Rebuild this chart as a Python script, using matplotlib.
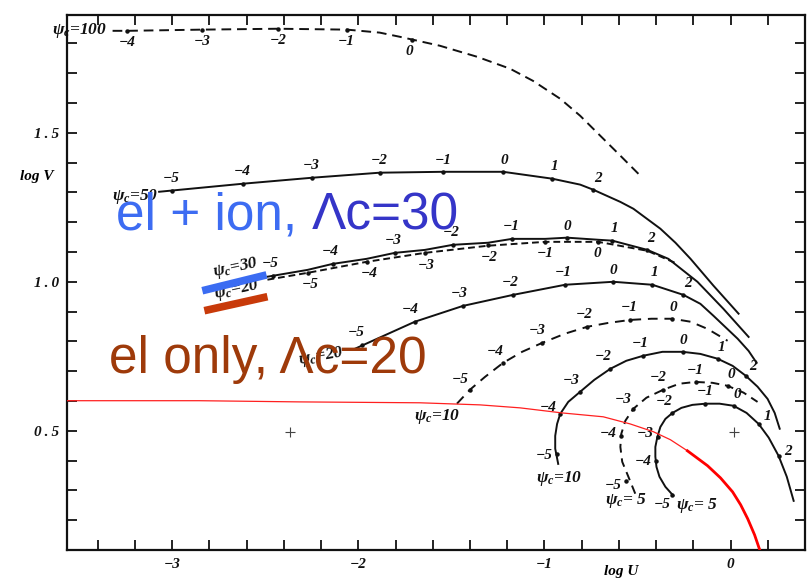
import numpy as np
import matplotlib.pyplot as plt
from matplotlib import transforms

plt.rcParams['mathtext.fontset'] = 'custom'
plt.rcParams['mathtext.rm'] = 'Liberation Serif:bold:italic'
plt.rcParams['mathtext.it'] = 'Liberation Serif:bold:italic'
plt.rcParams['mathtext.bf'] = 'Liberation Serif:bold:italic'

# ---- curves in the (log U, log V) plane ----
# psi_c = 100 (dashed)
p100_u = [-3.32, -3.24, -2.84, -2.43, -2.06, -1.885, -1.777, -1.562, -1.362, -1.185, -1.061,
          -0.915, -0.808, -0.700, -0.592, -0.485]
p100_v = [1.842, 1.842, 1.846, 1.849, 1.846, 1.836, 1.822, 1.792, 1.755, 1.715, 1.674,
          1.614, 1.557, 1.490, 1.423, 1.356]
p100_mu = [-3.24, -2.84, -2.43, -2.06, -1.71]
p100_mv = [1.842, 1.846, 1.849, 1.846, 1.812]
p100_lab = ['−4', '−3', '−2', '−1', '0']

# psi_c = 50 (solid)
p50_u = [-3.07, -2.62, -2.25, -1.885, -1.546, -1.222, -0.959, -0.808, -0.738, -0.592, -0.522,
         -0.377, -0.296, -0.215, -0.092, 0.043]
p50_v = [1.302, 1.329, 1.349, 1.366, 1.369, 1.369, 1.346, 1.326, 1.309, 1.268, 1.245,
         1.178, 1.131, 1.077, 0.987, 0.893]
p50_mu = [-3.00, -2.62, -2.25, -1.885, -1.546, -1.222, -0.959, -0.738]
p50_mv = [1.306, 1.329, 1.349, 1.366, 1.369, 1.369, 1.346, 1.309]
p50_lab = ['−5', '−4', '−3', '−2', '−1', '0', '1', '2']

# psi_c = 30 (solid)
p30_u = [-2.488, -2.272, -2.138, -1.955, -1.804, -1.642, -1.492, -1.303, -1.174, -0.996,
         -0.878, -0.711, -0.635, -0.447, -0.334, -0.178, -0.038, 0.097]
p30_v = [1.017, 1.040, 1.060, 1.077, 1.097, 1.107, 1.124, 1.131, 1.144, 1.144,
         1.148, 1.141, 1.138, 1.107, 1.077, 1.000, 0.909, 0.815]
p30_mu = [-2.46, -2.138, -1.804, -1.492, -1.174, -0.878, -0.635, -0.447]
p30_mv = [1.021, 1.060, 1.097, 1.124, 1.144, 1.148, 1.138, 1.107]
p30_lab = ['−5', '−4', '−3', '−2', '−1', '0', '1', '2']

# psi_c = 20 (dashed, next to psi_c = 30)
p20d_u = [-2.488, -2.272, -1.955, -1.642, -1.303, -0.996, -0.711, -0.447, -0.285]
p20d_v = [1.007, 1.030, 1.067, 1.097, 1.121, 1.134, 1.134, 1.104, 1.060]
p20d_mu = [-2.272, -1.955, -1.642, -1.303, -0.996, -0.711]
p20d_mv = [1.031, 1.068, 1.097, 1.122, 1.134, 1.134]
p20d_lab = ['−5', '−4', '−3', '−2', '−1', '0']

# psi_c = 20 (solid, lower)
p20_u = [-2.019, -1.696, -1.438, -1.169, -0.889, -0.630, -0.420, -0.253, -0.162, -0.092, 0.038,
         0.097, 0.140]
p20_v = [0.775, 0.866, 0.919, 0.956, 0.990, 1.000, 0.990, 0.956, 0.926, 0.886, 0.809,
         0.768, 0.728]
p20_mu = [-1.98, -1.696, -1.438, -1.169, -0.889, -0.630, -0.420, -0.253]
p20_mv = [0.787, 0.866, 0.919, 0.956, 0.990, 1.000, 0.990, 0.956]
p20_lab = ['−5', '−4', '−3', '−2', '−1', '0', '1', '2']

# psi_c = 10 (dashed)
p10d_u = [-1.470, -1.400, -1.319, -1.222, -1.120, -1.012, -0.889, -0.770, -0.657, -0.539,
          -0.425, -0.312, -0.215, -0.124, -0.016]
p10d_v = [0.591, 0.638, 0.681, 0.728, 0.765, 0.795, 0.826, 0.849, 0.862, 0.872,
          0.876, 0.876, 0.866, 0.842, 0.802]
p10d_mu = [-1.400, -1.222, -1.012, -0.770, -0.539, -0.312]
p10d_mv = [0.638, 0.728, 0.795, 0.849, 0.872, 0.876]
p10d_lab = ['−5', '−4', '−3', '−2', '−1', '0']

# psi_c = 10 (solid)
p10_u = [-0.926, -0.942, -0.942, -0.932, -0.915, -0.872, -0.808, -0.732, -0.646, -0.560, -0.468,
         -0.366, -0.258, -0.162, -0.070, 0.011, 0.081, 0.145, 0.199, 0.237, 0.264]
p10_v = [0.389, 0.440, 0.483, 0.523, 0.557, 0.597, 0.631, 0.671, 0.708, 0.735, 0.752,
         0.765, 0.765, 0.758, 0.742, 0.718, 0.685, 0.648, 0.607, 0.560, 0.507]
p10_mu = [-0.935, -0.915, -0.808, -0.646, -0.468, -0.258, -0.070, 0.081]
p10_mv = [0.423, 0.557, 0.631, 0.708, 0.752, 0.765, 0.742, 0.685]
p10_lab = ['−5', '−4', '−3', '−2', '−1', '0', '1', '2']

# psi_c = 5 (dashed)
p5d_u = [-0.512, -0.549, -0.582, -0.592, -0.587, -0.565, -0.522, -0.452, -0.361, -0.275,
         -0.188, -0.097, -0.016, 0.070, 0.145]
p5d_v = [0.289, 0.346, 0.396, 0.446, 0.490, 0.534, 0.574, 0.611, 0.638, 0.658,
         0.664, 0.661, 0.651, 0.628, 0.597]
p5d_mu = [-0.560, -0.588, -0.522, -0.361, -0.188, -0.016]
p5d_mv = [0.333, 0.483, 0.574, 0.638, 0.664, 0.651]
p5d_lab = ['−5', '−4', '−3', '−2', '−1', '0']

# psi_c = 5 (solid)
p5_u = [-0.307, -0.350, -0.382, -0.398, -0.404, -0.404, -0.393, -0.377, -0.350, -0.312, -0.264,
        -0.205, -0.135, -0.059, 0.016, 0.086, 0.151, 0.205, 0.258, 0.302, 0.339]
p5_v = [0.282, 0.312, 0.346, 0.379, 0.413, 0.446, 0.480, 0.513, 0.540, 0.560, 0.577,
        0.587, 0.591, 0.591, 0.584, 0.560, 0.523, 0.477, 0.416, 0.346, 0.265]
p5_mu = [-0.312, -0.402, -0.390, -0.312, -0.135, 0.016, 0.151, 0.258]
p5_mv = [0.285, 0.399, 0.480, 0.560, 0.591, 0.584, 0.523, 0.416]
p5_lab = ['−5', '−4', '−3', '−2', '−1', '0', '1', '2']

# red overlay curve
red_u = [-3.565, -2.854, -2.316, -1.669, -1.346, -1.131, -0.905, -0.684, -0.539, -0.415, -0.323,
         -0.232, -0.124, -0.054, 0.011, 0.054, 0.092, 0.129, 0.168]
red_v = [0.601, 0.601, 0.597, 0.594, 0.587, 0.577, 0.560, 0.547, 0.523, 0.497, 0.470,
         0.433, 0.383, 0.342, 0.295, 0.252, 0.205, 0.151, 0.080]

# reference crosses
cross_u = [-2.369, 0.016]
cross_v = [0.497, 0.497]

serif = ['Liberation Serif', 'DejaVu Serif']
lab_font = dict(family=serif, weight='bold', style='italic', fontsize=11, color='#111111')

fig = plt.figure(figsize=(8.08, 5.78), dpi=100)
ax = fig.add_axes([0.0829, 0.0484, 0.9134, 0.9256])
ax.set_xlim(-3.565, 0.40)
ax.set_ylim(0.10, 1.895)


def put_labels(cu, cv, mu, mv, labels, side):
    # markers on the curve, labels pushed off to one side of it
    ax.plot(mu, mv, 'o', ms=2.2, color='#111111', zorder=3)
    pts = ax.transData.transform(np.column_stack([cu, cv]))
    for u, v, s in zip(mu, mv, labels):
        p = ax.transData.transform((u, v))
        i = np.argmin(np.hypot(*(pts - p).T))
        a = pts[max(i - 1, 0)]
        b = pts[min(i + 1, len(pts) - 1)]
        t = (b - a) / np.hypot(*(b - a))
        n = np.array([-t[1], t[0]]) * side
        w = 6.8 * len(s)
        d = 5 + abs(n[0]) * w / 2 + abs(n[1]) * 6.5
        qu, qv = ax.transData.inverted().transform(p + n * d)
        ax.text(qu, qv, s, ha='center', va='center', **lab_font)


line_kw = dict(color='#111111', lw=1.4)
ax.plot(p100_u, p100_v, dashes=(5, 3), **line_kw)
ax.plot(p50_u, p50_v, **line_kw)
ax.plot(p30_u, p30_v, **line_kw)
ax.plot(p20d_u, p20d_v, dashes=(3.5, 2), **line_kw)
ax.plot(p20_u, p20_v, **line_kw)
ax.plot(p10d_u, p10d_v, dashes=(5, 3.5), **line_kw)
ax.plot(p10_u, p10_v, **line_kw)
ax.plot(p5d_u, p5d_v, dashes=(4.5, 3), **line_kw)
ax.plot(p5_u, p5_v, **line_kw)

put_labels(p100_u, p100_v, p100_mu, p100_mv, p100_lab, -1)
put_labels(p50_u, p50_v, p50_mu, p50_mv, p50_lab, 1)
put_labels(p30_u, p30_v, p30_mu, p30_mv, p30_lab, 1)
put_labels(p20d_u, p20d_v, p20d_mu, p20d_mv, p20d_lab, -1)
put_labels(p20_u, p20_v, p20_mu, p20_mv, p20_lab, 1)
put_labels(p10d_u, p10d_v, p10d_mu, p10d_mv, p10d_lab, 1)
put_labels(p10_u, p10_v, p10_mu, p10_mv, p10_lab, 1)
put_labels(p5d_u, p5d_v, p5d_mu, p5d_mv, p5d_lab, 1)
put_labels(p5_u, p5_v, p5_mu, p5_mv, p5_lab, 1)

# curve names
psi_kw = dict(family=serif, weight='bold', style='italic', fontsize=12.5, color='#111111',
              ha='center', va='center')
ax.text(-3.495, 1.842, r'$\psi_c$=100', clip_on=False, **psi_kw)
ax.text(-3.20, 1.287, r'$\psi_c$=50', **psi_kw)
ax.text(-2.66, 1.046, r'$\psi_c$=30', rotation=12, **psi_kw)
ax.text(-2.655, 0.972, r'$\psi_c$=20', rotation=12, **psi_kw)
ax.text(-2.197, 0.750, r'$\psi_c$=20', rotation=10, **psi_kw)
ax.text(-1.578, 0.547, r'$\psi_c$=10', **psi_kw)
ax.text(-0.921, 0.339, r'$\psi_c$=10', **psi_kw)
ax.text(-0.560, 0.265, r'$\psi_c$= 5', **psi_kw)
ax.text(-0.183, 0.248, r'$\psi_c$= 5', **psi_kw)

ax.plot(cross_u, cross_v, '+', ms=7, mew=0.8, color='#444444')

# red curve: thin upper part, heavier where it drops
ax.plot(red_u[:12], red_v[:12], color='#ff2020', lw=0.9, zorder=4)
ax.plot(red_u[11:], red_v[11:], color='#ff0000', lw=2.0, zorder=4)

# colour bars marking the two models
ax.plot([-2.838, -2.493], [0.970, 1.023], color='#3b6cf2', lw=5.5, solid_capstyle='butt', zorder=5)
ax.plot([-2.827, -2.488], [0.903, 0.950], color='#c83a0a', lw=5.5, solid_capstyle='butt', zorder=5)

sans = ['Liberation Sans', 'DejaVu Sans']
t1 = ax.text(-3.301, 1.174, 'el + ion, ', family=sans, fontsize=37, color='#3d6cf2',
             va='baseline', ha='left', zorder=6)
fig.canvas.draw()
w1 = t1.get_window_extent().width
ax.text(-3.301, 1.174, 'Λc=30', family=sans, fontsize=37, color='#3535c8', va='baseline', ha='left',
        zorder=6, transform=transforms.offset_copy(ax.transData, fig, x=w1, units='dots'))
ax.text(-3.339, 0.695, 'el only, Λc=20', family=sans, fontsize=37, color='#9e3a0a',
        va='baseline', ha='left', zorder=6)

# axes, ticks
xt = np.round(np.arange(-3.4, 0.21, 0.2), 1)
ax.set_xticks(xt)
ax.set_xticklabels(['−%d' % abs(round(v)) if abs(v - round(v)) < 1e-6 and v < 0
                    else ('0' if abs(v) < 1e-6 else '') for v in xt])
yt = np.round(np.arange(0.2, 1.81, 0.1), 1)
ax.set_yticks(yt)
ax.set_yticklabels([('%.1f' % v).replace('.', '\u2009.\u2009') if round(v * 10) % 5 == 0 else ''
                    for v in yt])
for lab in ax.get_xticklabels() + ax.get_yticklabels():
    lab.set_family(serif)
    lab.set_weight('bold')
    lab.set_style('italic')
    lab.set_fontsize(11)
ax.tick_params(direction='in', top=True, right=True, length=7, width=1.3, pad=6, colors='#111111')
for s in ax.spines.values():
    s.set_linewidth(1.6)
    s.set_color('#111111')

fig.text(37 / 808, 1 - 177 / 578, 'log V', family=serif, weight='bold', style='italic',
         fontsize=11, ha='center', va='center')
fig.text(621 / 808, 1 - 572 / 578, 'log U', family=serif, weight='bold', style='italic',
         fontsize=11, ha='center', va='center')

fig.savefig('out.png', dpi=100)
